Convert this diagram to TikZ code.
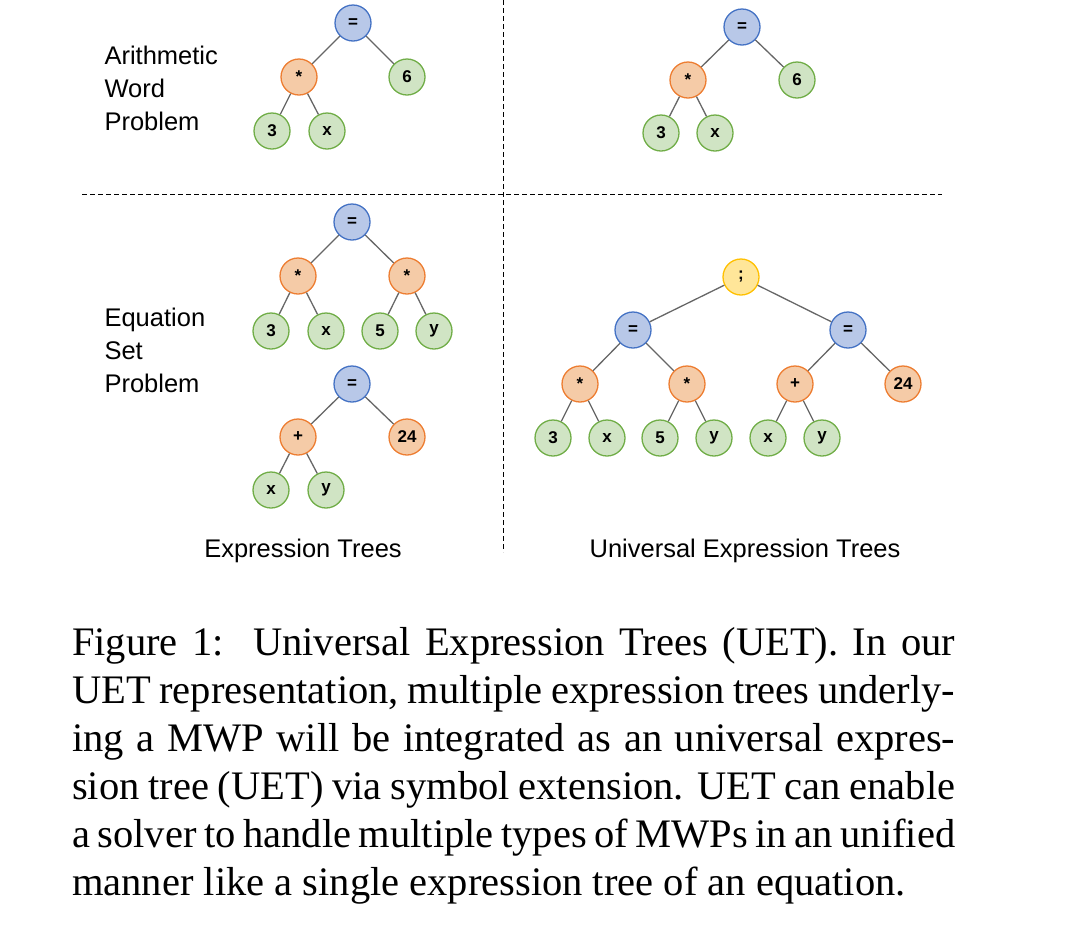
\documentclass[tikz,border=0pt]{standalone}
\usepackage{fontspec}
\setmainfont{Liberation Serif}
\setsansfont{Liberation Sans}
\usepackage{xcolor}
\usetikzlibrary{positioning}

\definecolor{gfill}{HTML}{D0E4C4}
\definecolor{gline}{HTML}{70AD47}
\definecolor{ofill}{HTML}{F5CBA7}
\definecolor{oline}{HTML}{ED7D31}
\definecolor{bfill}{HTML}{B8C8E8}
\definecolor{bline}{HTML}{4472C4}
\definecolor{yfill}{HTML}{FFE699}
\definecolor{yline}{HTML}{FFC000}

\begin{document}
\begin{tikzpicture}[x=1pt, y=-1pt,
		tn/.style={circle, minimum size=36pt, inner sep=0pt, line width=1.3pt,
			font=\sffamily\bfseries\fontsize{17}{17}\selectfont},
		num/.style={tn, draw=gline, fill=gfill},
		opr/.style={tn, draw=oline, fill=ofill},
		eqn/.style={tn, draw=bline, fill=bfill},
		sem/.style={tn, draw=yline, fill=yfill},
		lbl/.style={font=\sffamily\fontsize{25.5}{33}\selectfont, align=left},
		sep/.style={line width=1pt, dash pattern=on 5pt off 3pt}]
	\useasboundingbox (0,0) rectangle (1066,938);

	% separators
	\draw[sep] (503,0) -- (503,552);
	\draw[sep] (82,194) -- (942,194);

	% arithmetic word problem, expression tree
	\node[eqn] (aeq) at (353,23) {=};
	\node[opr] (am) at (299,77) {*};
	\node[num] (a6) at (407,77) {6};
	\node[num] (a3) at (272,131) {3};
	\node[num] (ax) at (327,131) {x};

	% arithmetic word problem, universal tree
	\node[eqn] (beq) at (742,27) {=};
	\node[opr] (bm) at (688,80) {*};
	\node[num] (b6) at (797,80) {6};
	\node[num] (b3) at (661,133) {3};
	\node[num] (bx) at (715,133) {x};

	% equation set problem, first tree
	\node[eqn] (ceq) at (352,222) {=};
	\node[opr] (cm) at (298,276) {*};
	\node[opr] (cn) at (407,276) {*};
	\node[num] (c3) at (271,331) {3};
	\node[num] (cx) at (326,331) {x};
	\node[num] (c5) at (380,331) {5};
	\node[num] (cy) at (434,331) {y};

	% equation set problem, second tree
	\node[eqn] (deq) at (352,384) {=};
	\node[opr] (dp) at (298,437) {+};
	\node[opr] (d24) at (407,437) {24};
	\node[num] (dx) at (271,490) {x};
	\node[num] (dy) at (326,490) {y};

	% equation set problem, universal tree
	\node[sem] (es) at (741,277) {;};
	\node[eqn] (el) at (633,330) {=};
	\node[eqn] (er) at (848,330) {=};
	\node[opr] (em) at (580,384) {*};
	\node[opr] (en) at (687,384) {*};
	\node[opr] (ep) at (795,384) {+};
	\node[opr] (e24) at (903,384) {24};
	\node[num] (e3) at (553,438) {3};
	\node[num] (ex) at (607,438) {x};
	\node[num] (e5) at (660,438) {5};
	\node[num] (ey) at (714,438) {y};
	\node[num] (fx) at (768,438) {x};
	\node[num] (fy) at (822,438) {y};

	\path[draw=black!60, line width=1.3pt]
	(aeq) edge (am) edge (a6)
	(am) edge (a3) edge (ax)
	(beq) edge (bm) edge (b6)
	(bm) edge (b3) edge (bx)
	(ceq) edge (cm) edge (cn)
	(cm) edge (c3) edge (cx)
	(cn) edge (c5) edge (cy)
	(deq) edge (dp) edge (d24)
	(dp) edge (dx) edge (dy)
	(es) edge (el) edge (er)
	(el) edge (em) edge (en)
	(er) edge (ep) edge (e24)
	(em) edge (e3) edge (ex)
	(en) edge (e5) edge (ey)
	(ep) edge (fx) edge (fy);

	% row labels
	\node[lbl, anchor=west] (awp) at (101,88) {Arithmetic\\Word\\Problem};
	\node[lbl, anchor=west] (esp) at (101,350) {Equation\\Set\\Problem};
	\node[lbl] (et) at (303,551) {Expression Trees};
	\node[lbl] (uet) at (745,551) {Universal Expression Trees};

	% caption
	\node[anchor=north west, inner sep=0pt, text width=883pt, align=justify,
		font=\fontsize{40.5}{48}\selectfont] (cap) at (72,627) {Figure 1:\ \ Universal Expression Trees (UET). In our\linebreak
		UET representation, multiple expression trees underly-\linebreak
		ing a MWP will be integrated as an universal expres-\linebreak
		sion tree (UET) via symbol extension. UET can enable\linebreak
		a solver to handle multiple types of MWPs in an unified\linebreak
		manner like a single expression tree of an equation.};
\end{tikzpicture}
\end{document}
